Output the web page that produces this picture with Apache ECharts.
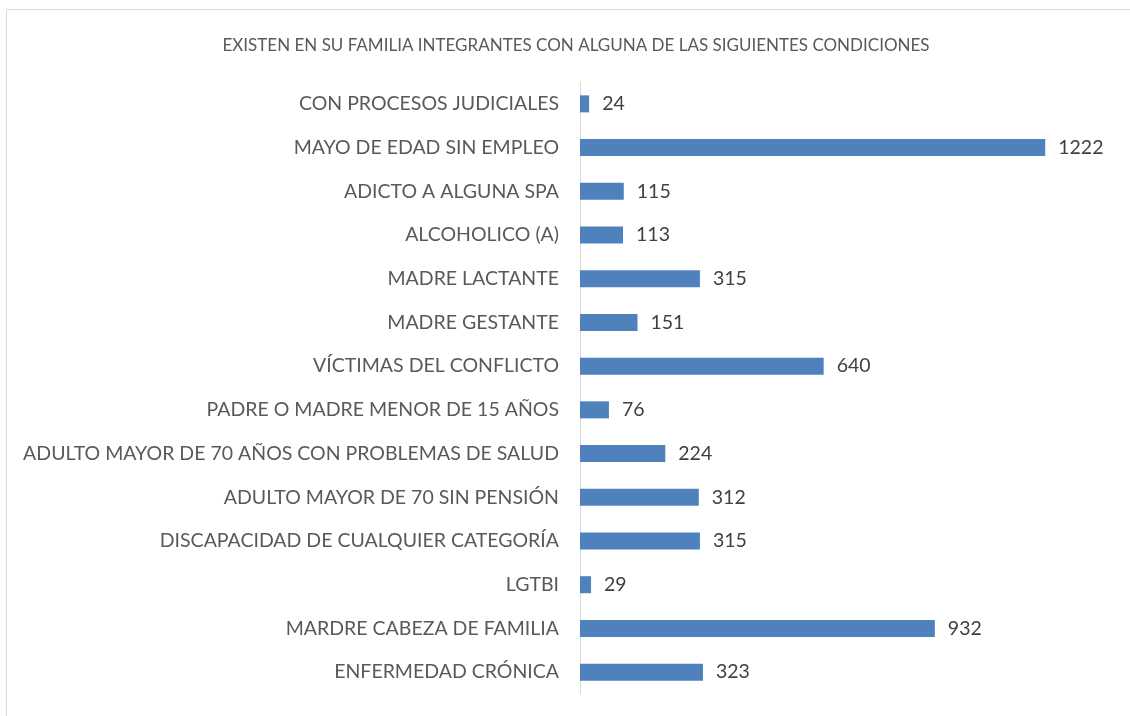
<!DOCTYPE html>
<html>
<head>
<meta charset="utf-8">
<script src="https://cdn.jsdelivr.net/npm/echarts@6/dist/echarts.min.js"></script>
<style>
    html, body { margin: 0; padding: 0; background: #fff; }
    #chart { width: 1130px; height: 716px; }
</style>
</head>
<body>
<div id="chart"></div>
<script>
// categories listed bottom to top (ECharts category axis starts at the bottom)
var categories = [
    'ENFERMEDAD CRÓNICA',
    'MARDRE CABEZA DE FAMILIA',
    'LGTBI',
    'DISCAPACIDAD DE CUALQUIER CATEGORÍA',
    'ADULTO MAYOR DE 70 SIN PENSIÓN',
    'ADULTO MAYOR DE 70 AÑOS CON PROBLEMAS DE SALUD',
    'PADRE O MADRE MENOR DE 15 AÑOS',
    'VÍCTIMAS DEL CONFLICTO',
    'MADRE GESTANTE',
    'MADRE LACTANTE',
    'ALCOHOLICO (A)',
    'ADICTO A ALGUNA SPA',
    'MAYO DE EDAD SIN EMPLEO',
    'CON PROCESOS JUDICIALES'
];
var values = [323, 932, 29, 315, 312, 224, 76, 640, 151, 315, 113, 115, 1222, 24];

var chartTitle = 'EXISTEN EN SU FAMILIA INTEGRANTES CON ALGUNA DE LAS SIGUIENTES CONDICIONES';

var font = 'Lato, "Open Sans", sans-serif';

var myChart = echarts.init(document.getElementById('chart'));

myChart.setOption({
    animation: false,
    title: {
        text: chartTitle,
        left: 571,
        top: 32,
        textAlign: 'center',
        textStyle: {
            color: '#595959',
            fontFamily: font,
            fontWeight: 'normal',
            fontSize: 17
        }
    },
    graphic: [{
        type: 'rect',
        shape: {x: 6.5, y: 9.5, width: 1140, height: 720},
        style: {fill: 'none', stroke: '#d9d9d9', lineWidth: 1},
        silent: true
    }],
    grid: {
        left: 580,
        right: 17,
        top: 82,
        bottom: 22
    },
    xAxis: {
        type: 'value',
        min: 0,
        max: 1400,
        show: false
    },
    yAxis: {
        type: 'category',
        data: categories,
        axisLine: {lineStyle: {color: '#d9d9d9'}},
        axisTick: {show: false},
        axisLabel: {
            color: '#595959',
            fontFamily: font,
            fontSize: 19.5,
            margin: 21
        }
    },
    series: [{
        type: 'bar',
        data: values,
        barWidth: 17,
        itemStyle: {color: '#4f81bd'},
        label: {
            show: true,
            position: 'right',
            distance: 13,
            color: '#404040',
            fontFamily: font,
            fontSize: 19.5
        }
    }]
});
</script>
</body>
</html>
